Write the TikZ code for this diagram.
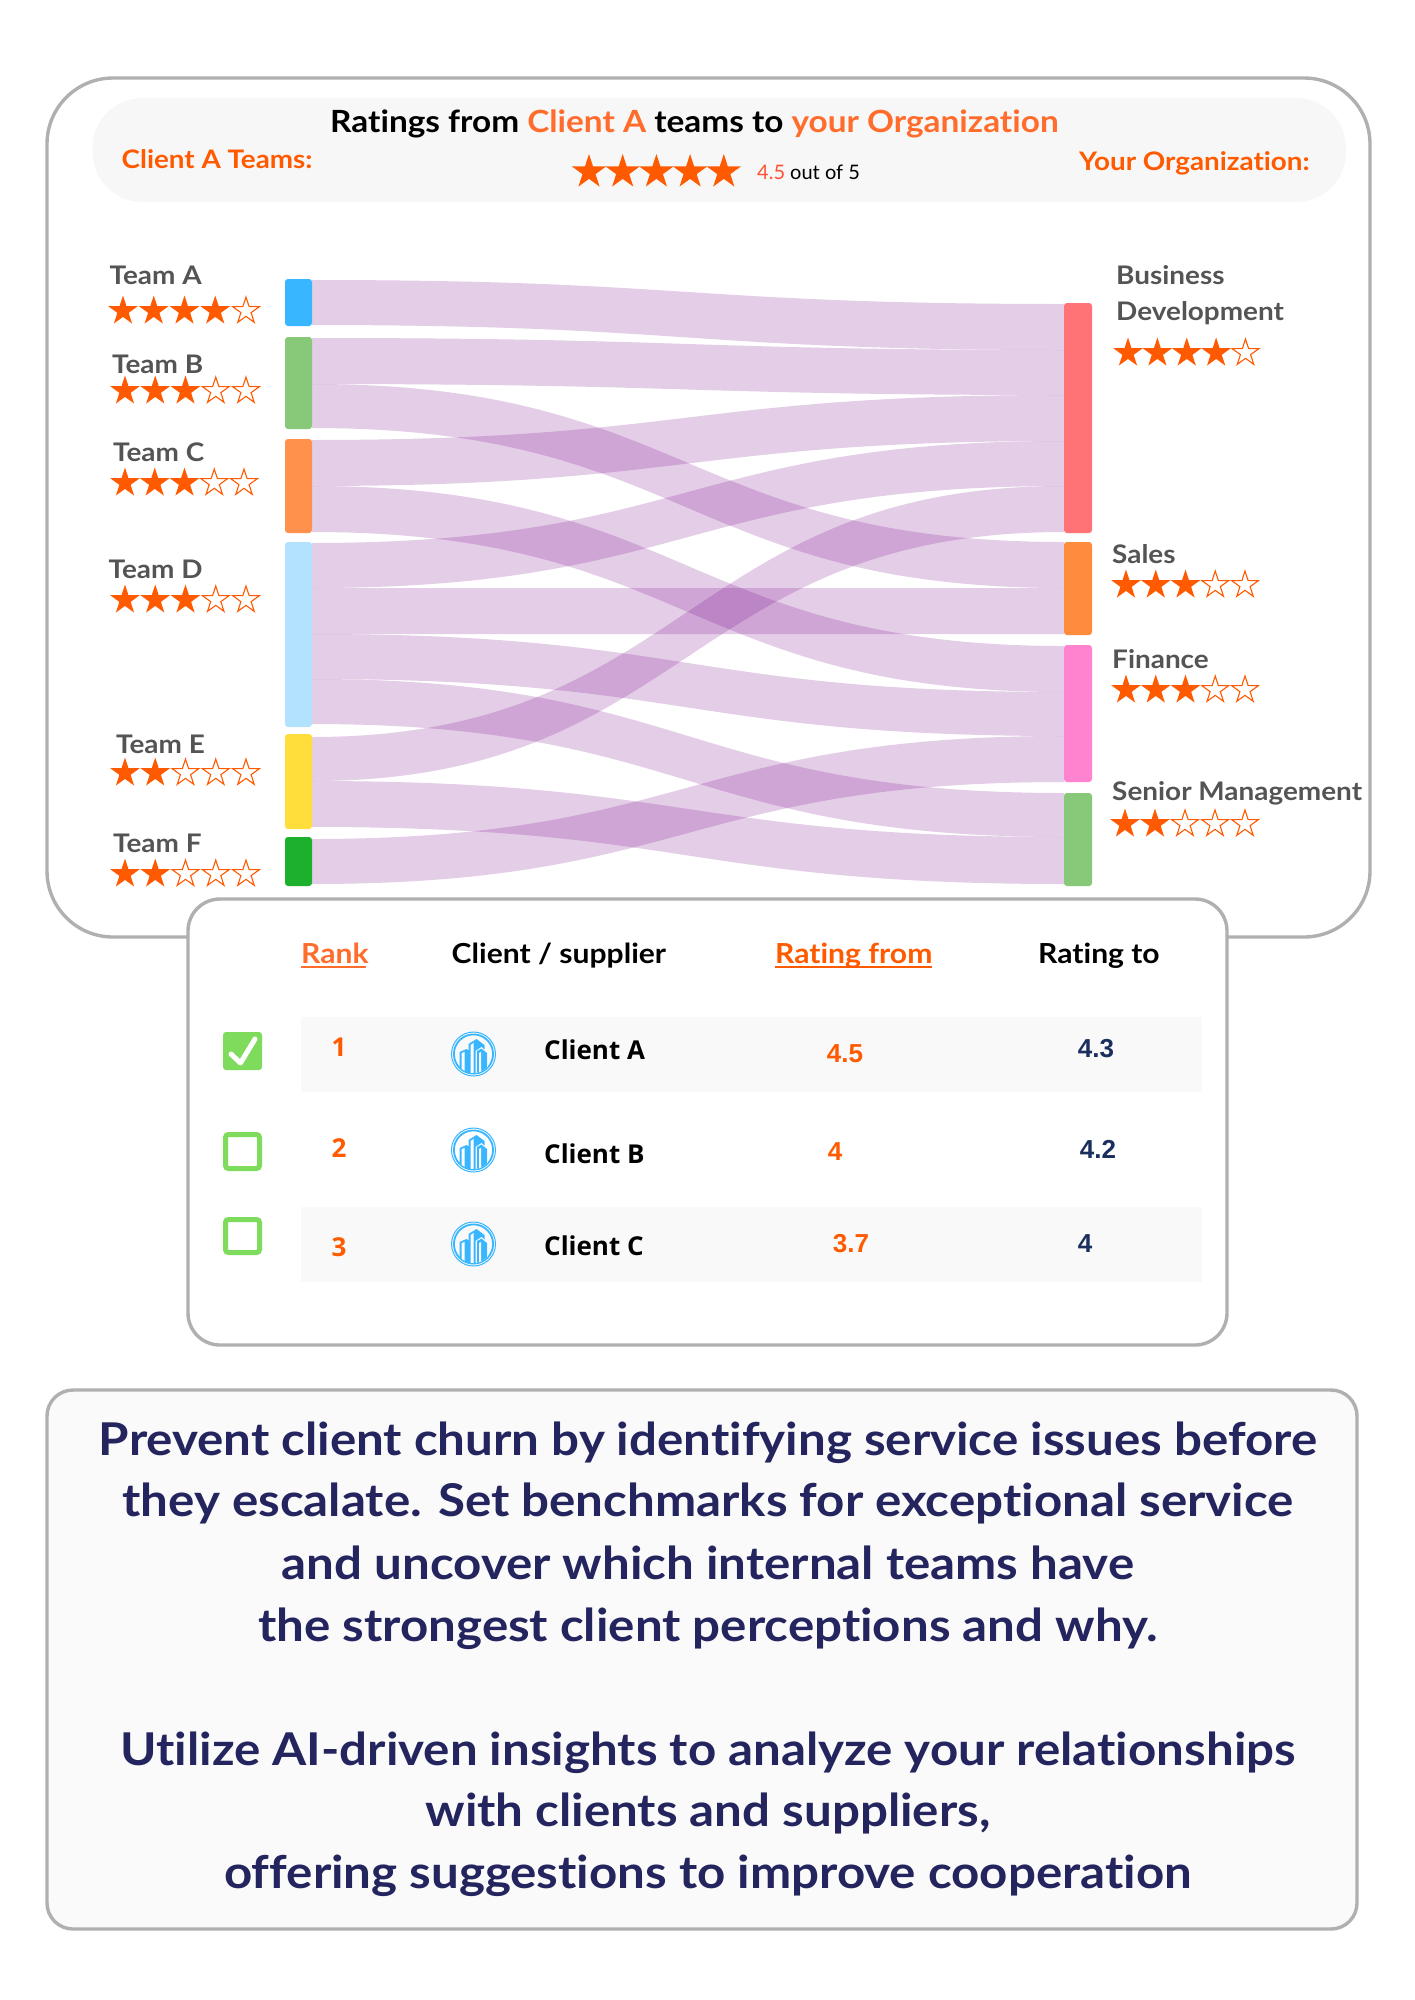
\documentclass[tikz,border=0pt]{standalone}
\usepackage{fontspec}
\setmainfont{Lato}[FakeStretch=1.09,Ligatures=NoCommon]
\newfontfamily\plainf{Lato}[Ligatures=NoCommon]
\newfontfamily\notof{Open Sans}
\newfontfamily\arialf{Liberation Sans}
\usetikzlibrary{shapes.geometric}
\definecolor{frame}{HTML}{B0B0B0}
\definecolor{pale}{HTML}{F7F7F7}
\definecolor{band}{HTML}{F9F9F9}
\definecolor{boxbg}{HTML}{FAFAFA}
\definecolor{org}{HTML}{FF5A00}
\definecolor{orgl}{HTML}{FF6C2C}
\definecolor{redt}{HTML}{FF5233}
\definecolor{grayt}{HTML}{545454}
\definecolor{navy}{HTML}{1B2F5E}
\definecolor{deep}{HTML}{24245E}
\definecolor{chk}{HTML}{7FDB5C}
\definecolor{ico}{HTML}{38B6FF}
\definecolor{flow}{HTML}{78058A}
\definecolor{cA}{HTML}{38B6FF}
\definecolor{cB}{HTML}{87C879}
\definecolor{cC}{HTML}{FF914D}
\definecolor{cD}{HTML}{B3E2FF}
\definecolor{cE}{HTML}{FFDE3B}
\definecolor{cF}{HTML}{1CB02C}
\definecolor{cBD}{HTML}{FF7377}
\definecolor{cS}{HTML}{FF8C3C}
\definecolor{cFi}{HTML}{FF83CF}
\tikzset{
  x=1pt,y=-1pt,
  panel/.style={draw=frame,line width=3.4pt,fill=white},
  flowband/.style={fill=flow,fill opacity=.2,draw=none},
  bar/.style={rounded corners=3pt},
  lab/.style={inner sep=0pt,anchor=base west,text=grayt,font=\fontsize{25.6}{30}\selectfont\bfseries},
  head/.style={inner sep=0pt,anchor=base west,font=\fontsize{25.5}{32}\selectfont\bfseries},
  thead/.style={inner sep=0pt,anchor=base west,font=\fontsize{27.6}{32}\selectfont\bfseries},
  cli/.style={inner sep=0pt,anchor=center,font=\notof\fontsize{26}{30}\selectfont\bfseries},
  rnk/.style={inner sep=0pt,anchor=center,text=org,font=\notof\fontsize{26}{30}\selectfont\bfseries},
  nmb/.style={inner sep=0pt,anchor=center,font=\arialf\fontsize{26}{30}\selectfont\bfseries},
  big/.style={inner sep=0pt,anchor=base,text=deep,font=\fontsize{45.2}{50}\selectfont\bfseries},
  chkb/.style={draw=chk,line width=5pt,rounded corners=3pt},
  fullstar/.style={star,star points=5,star point ratio=2.618,inner sep=0pt,fill=org,draw=none},
  openstar/.style={star,star points=5,star point ratio=2.618,inner sep=0pt,fill=white,draw=org,line width=1.1pt},
}
% row of 5 stars: first centre x, last centre x, y, number filled
\newcommand{\starrow}[4]{%
  \foreach \i in {1,...,5}{%
    \pgfmathsetmacro{\sx}{#1+(\i-1)*(#2-#1)/4}%
    \ifnum\i>#4\relax
      \node[openstar,minimum size=28pt] at (\sx,#3) {};%
    \else
      \node[fullstar,minimum size=31pt] at (\sx,#3) {};%
    \fi}}
% link: top-left, bottom-left, top-right, bottom-right
\newcommand{\flowlink}[4]{\fill[flowband] (312,#1) .. controls (688,#1) and (688,#3) .. (1064,#3) -- (1064,#4) .. controls (688,#4) and (688,#2) .. (312,#2) -- cycle;}
% building icon
\newcommand{\bldicon}[2]{%
  \begin{scope}[shift={(#1,#2)}]
  \draw[ico,line width=1pt] (0,0) circle[radius=22];
  \draw[ico,line width=1.8pt] (0,0) circle[radius=19.6];
  \begin{scope}
  \clip (0,0) circle[radius=19];
  \fill[ico] (-14,22) -- (-14,-2) -- (-7,-5) -- (-2,-2) -- (-2,22) -- cycle;
  \fill[white] (-12,22) -- (-12,-1) -- (-9,-2) -- (-9,22) -- cycle;
  \fill[ico] (-5,22) -- (-5,-10) -- (3,-15) -- (11,-9) -- (11,-3) -- (4,-3) -- (4,22) -- cycle;
  \fill[white] (-3,22) -- (-3,-9) -- (0,-11) -- (0,22) -- cycle;
  \fill[white] (2,22) -- (2,-3) -- (8,-7) -- (15,-1) -- (15,22) -- cycle;
  \fill[ico] (3.5,22) -- (3.5,-3) -- (8,-5.5) -- (13.5,-1) -- (13.5,22) -- cycle;
  \fill[white] (5.5,22) -- (5.5,-1) -- (7.5,-2) -- (7.5,22) -- cycle;
  \end{scope}
  \end{scope}}
\begin{document}
\begin{tikzpicture}
\useasboundingbox (0,0) rectangle (1414,2000);
\fill[white] (0,0) rectangle (1414,2000);
% outer panel
\draw[panel,rounded corners=66pt] (47,78) rectangle (1370,937);
\fill[pale,rounded corners=50pt] (92.5,98) rectangle (1346,202);
% title
\node[inner sep=0pt,anchor=base west,font=\fontsize{30.6}{36}\selectfont\bfseries] (title) at (330,132) {Ratings from \textcolor{orgl}{Client A} teams to \textcolor{orgl}{your Organization}};
\node[head,text=org] (lteams) at (121.5,168) {Client A Teams:};
\node[head,text=org] (lorg) at (1079,170) {Your Organization:};
\foreach \k in {1,...,5}{\pgfmathsetmacro{\sx}{589+(\k-1)*33.7}\node[fullstar,minimum size=36pt] at (\sx,172) {};}
\node[inner sep=0pt,anchor=base west,font=\plainf\fontsize{20}{25}\selectfont] (score) at (757,179) {\textcolor{redt}{4.5} out of 5};
% flows
\flowlink{280}{325}{304}{350}
\flowlink{338}{384}{350}{395}
\flowlink{384}{428}{542}{588}
\flowlink{440}{486}{395}{441}
\flowlink{486}{532}{646}{692}
\flowlink{543}{588}{441}{486}
\flowlink{588}{634}{588}{634}
\flowlink{634}{679}{692}{736}
\flowlink{679}{724}{793}{837}
\flowlink{737}{781}{486}{532}
\flowlink{781}{827}{837}{884}
\flowlink{839}{884}{736}{782}
% sankey bars
\fill[cA,bar] (285,279) rectangle (312,326);
\fill[cB,bar] (285,337) rectangle (312,429);
\fill[cC,bar] (285,439) rectangle (312,533);
\fill[cD,bar] (285,542) rectangle (312,727);
\fill[cE,bar] (285,734) rectangle (312,829);
\fill[cF,bar] (285,837) rectangle (312,886);
\fill[cBD,bar] (1064,303) rectangle (1092,533);
\fill[cS,bar] (1064,542) rectangle (1092,635);
\fill[cFi,bar] (1064,645) rectangle (1092,782);
\fill[cB,bar] (1064,793) rectangle (1092,886);
% left labels
\node[lab] (ta) at (109.5,284) {Team A};
\node[lab] (tb) at (112,373) {Team B};
\node[lab] (tc) at (113,461) {Team C};
\node[lab] (td) at (108.5,578) {Team D};
\node[lab] (te) at (116,753) {Team E};
\node[lab] (tf) at (113,852) {Team F};
\starrow{123}{246}{311}{4}
\starrow{125}{246}{391}{3}
\starrow{125}{244}{483}{3}
\starrow{125}{246}{600}{3}
\starrow{125}{246}{773}{2}
\starrow{125}{246}{874}{2}
% right labels
\node[lab] (bd1) at (1116,284) {Business};
\node[lab] (bd2) at (1116,320) {Development};
\node[lab] (rs) at (1112,563) {Sales};
\node[lab] (rf) at (1112,668) {Finance};
\node[lab] (rm) at (1112,800) {Senior Management};
\starrow{1128}{1245.5}{353}{4}
\starrow{1126}{1245}{585}{3}
\starrow{1126}{1245}{690}{3}
\starrow{1125}{1245}{824}{2}
% table panel
\draw[panel,rounded corners=32pt] (188,899) rectangle (1227,1345);
\fill[band] (300.5,1017) rectangle (1202,1092);
\fill[band] (300.5,1207) rectangle (1202,1282);
\node[thead,text=orgl] (hr) at (301,963) {Rank};
\draw[orgl,line width=1.6pt] (301,967) -- (366,967);
\node[thead] (hc) at (451.5,963) {Client / supplier};
\node[thead,text=org] (hf) at (775,963) {Rating from};
\draw[org,line width=1.6pt] (775,967) -- (932,967);
\node[thead] (ht) at (1038,963) {Rating to};
% checkboxes
\fill[chk,rounded corners=3pt] (223,1032) rectangle (262,1070);
\draw[white,line width=5pt,line cap=round,line join=round] (231,1054) -- (240.5,1063) -- (255,1039);
\draw[chkb] (225.5,1134.5) rectangle (259.5,1168.5);
\draw[chkb] (225.5,1219.5) rectangle (259.5,1252.5);
% ranks
\node[rnk] (r1) at (339,1047) {1};
\node[rnk] (r2) at (339,1148) {2};
\node[rnk] (r3) at (339,1247) {3};
% icons
\bldicon{473.5}{1054}
\bldicon{473.5}{1150}
\bldicon{473.5}{1244}
% clients
\node[cli,anchor=west] (c1) at (544,1050) {Client A};
\node[cli,anchor=west] (c2) at (544,1154) {Client B};
\node[cli,anchor=west] (c3) at (544,1246) {Client C};
% numbers
\node[nmb,text=org] (f1) at (845,1054) {4.5};
\node[nmb,text=org] (f2) at (835,1152) {4};
\node[nmb,text=org] (f3) at (851,1244) {3.7};
\node[nmb,text=navy] (t1) at (1096,1049) {4.3};
\node[nmb,text=navy] (t2) at (1098,1149) {4.2};
\node[nmb,text=navy] (t3) at (1085,1244) {4};
% bottom panel
\draw[draw=frame,line width=3.4pt,fill=boxbg,rounded corners=26pt] (47,1390) rectangle (1357,1929);
\node[big] (l1) at (708,1455) {Prevent client churn by identifying service issues before};
\node[big] (l2) at (708,1516) {they escalate. Set benchmarks for exceptional service};
\node[big] (l3) at (708,1579) {and uncover which internal teams have};
\node[big] (l4) at (708,1641) {the strongest client perceptions and why.};
\node[big] (l5) at (708,1765) {Utilize AI-driven insights to analyze your relationships};
\node[big] (l6) at (708,1826) {with clients and suppliers,};
\node[big] (l7) at (708,1888) {offering suggestions to improve cooperation};
\end{tikzpicture}
\end{document}
